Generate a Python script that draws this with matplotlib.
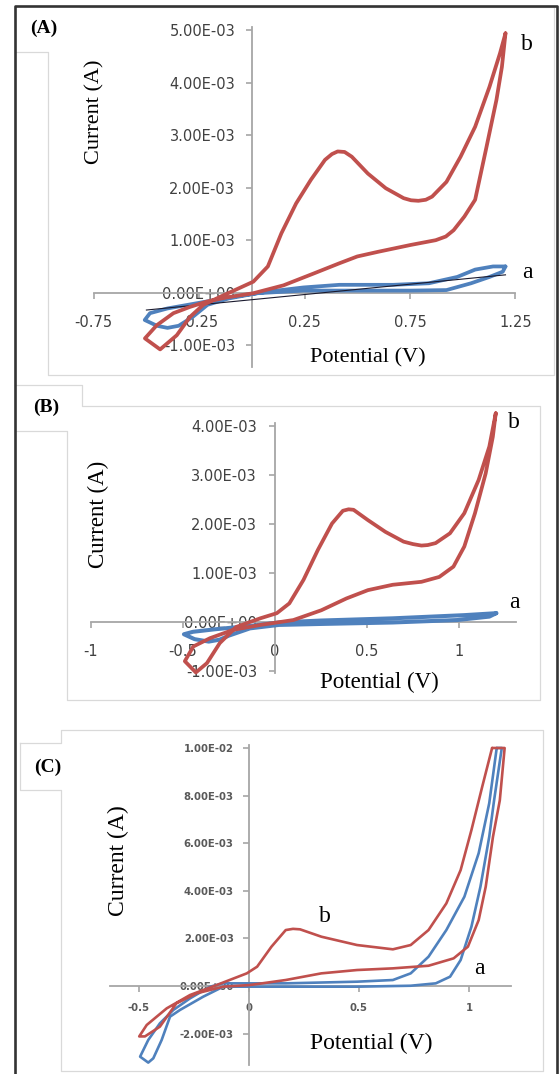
import matplotlib
matplotlib.use("Agg")
import matplotlib.pyplot as plt
from matplotlib.lines import Line2D
import numpy as np

W, H = 560, 1074

# ---- data: potential (V), current (mA) ----
# panel A
a_red_E = [1.203, 1.177, 1.127, 1.059, 0.99, 0.923, 0.855, 0.825, 0.79, 0.755, 0.72, 0.635,
           0.55, 0.474, 0.44, 0.407, 0.38, 0.347, 0.28, 0.21, 0.14, 0.076, 0.007, -0.072,
           -0.151, -0.23, -0.293, -0.356, -0.435, -0.507, -0.451, -0.372, -0.293, -0.214,
           -0.12, 0.007, 0.15, 0.296, 0.415, 0.50, 0.60, 0.754, 0.872, 0.92, 0.957, 1.008,
           1.059, 1.11, 1.16, 1.186, 1.203]
a_red_I = [4.94, 4.56, 3.92, 3.16, 2.59, 2.11, 1.83, 1.77, 1.75, 1.76, 1.80, 1.99,
           2.27, 2.59, 2.68, 2.69, 2.64, 2.53, 2.15, 1.70, 1.13, 0.50, 0.21, 0.065,
           -0.08, -0.23, -0.46, -0.81, -1.08, -0.87, -0.62, -0.39, -0.27, -0.17,
           -0.09, -0.01, 0.14, 0.37, 0.56, 0.69, 0.78, 0.91, 1.0, 1.07, 1.19, 1.45,
           1.77, 2.72, 3.67, 4.30, 4.94]
a_blue_E = [1.203, 1.144, 1.059, 0.974, 0.84, 0.67, 0.415, 0.245, 0.076, -0.094, -0.26,
            -0.40, -0.483, -0.508, -0.45, -0.40, -0.347, -0.28, -0.21, -0.11, 0.025,
            0.245, 0.5, 0.754, 0.923, 1.04, 1.127, 1.19, 1.203]
a_blue_I = [0.50, 0.50, 0.44, 0.30, 0.18, 0.15, 0.15, 0.10, 0.02, -0.08, -0.20,
            -0.30, -0.39, -0.52, -0.63, -0.67, -0.63, -0.46, -0.23, -0.11, -0.01,
            0.04, 0.04, 0.04, 0.05, 0.18, 0.30, 0.40, 0.50]
a_fit_E = [-0.50, 1.203]
a_fit_I = [-0.33, 0.34]

# panel B
b_red_E = [1.20, 1.165, 1.107, 1.029, 0.951, 0.873, 0.83, 0.796, 0.75, 0.699, 0.60, 0.505,
           0.427, 0.40, 0.369, 0.31, 0.233, 0.155, 0.078, 0.01, -0.08, -0.21, -0.30, -0.37,
           -0.43, -0.49, -0.444, -0.353, -0.227, -0.08, 0.10, 0.252, 0.388, 0.505, 0.64,
           0.796, 0.893, 0.97, 1.029, 1.087, 1.145, 1.184, 1.20]
b_red_I = [4.26, 3.58, 2.90, 2.22, 1.81, 1.61, 1.57, 1.56, 1.59, 1.64, 1.84, 2.08,
           2.29, 2.30, 2.27, 2.01, 1.47, 0.86, 0.38, 0.18, 0.075, -0.10, -0.43, -0.84,
           -1.03, -0.80, -0.50, -0.33, -0.16, -0.06, 0.04, 0.24, 0.48, 0.65, 0.76,
           0.82, 0.92, 1.13, 1.54, 2.22, 3.03, 3.78, 4.26]
b_blue_E = [1.203, 1.029, 0.64, 0.25, 0.02, -0.136, -0.33, -0.446, -0.495, -0.437, -0.36,
            -0.30, -0.252, -0.136, 0.02, 0.25, 0.64, 0.99, 1.165, 1.203]
b_blue_I = [0.18, 0.14, 0.075, 0.03, -0.01, -0.08, -0.15, -0.20, -0.25, -0.35, -0.40,
            -0.36, -0.28, -0.13, -0.06, -0.04, -0.01, 0.04, 0.11, 0.18]

# panel C
c_red_E = [1.105, 1.06, 1.011, 0.962, 0.897, 0.816, 0.735, 0.654, 0.491, 0.329, 0.232,
           0.20, 0.167, 0.102, 0.037, -0.01, -0.147, -0.268, -0.374, -0.465, -0.499, -0.473,
           -0.405, -0.33, -0.238, -0.117, 0.005, 0.167, 0.329, 0.491, 0.654, 0.816, 0.93,
           0.995, 1.044, 1.076, 1.109, 1.14, 1.162, 1.105]
c_red_I = [10.0, 8.37, 6.55, 4.87, 3.47, 2.35, 1.72, 1.54, 1.72, 2.07, 2.38,
           2.40, 2.35, 1.65, 0.81, 0.53, 0.04, -0.38, -0.94, -1.64, -2.12, -2.12,
           -1.71, -0.73, -0.31, -0.03, 0.04, 0.25, 0.53, 0.67, 0.74, 0.85, 1.16,
           1.65, 2.77, 4.17, 6.27, 7.8, 10.0, 10.0]
c_blue_E = [1.126, 1.092, 1.044, 0.979, 0.897, 0.816, 0.735, 0.654, 0.491, 0.167, 0.0,
            -0.117, -0.177, -0.268, -0.344, -0.405, -0.458, -0.495, -0.458, -0.435,
            -0.397, -0.359, -0.314, -0.208, -0.117, 0.167, 0.49, 0.735, 0.849, 0.914,
            0.962, 1.011, 1.052, 1.092, 1.114, 1.149, 1.126]
c_blue_I = [10.0, 7.68, 5.58, 3.75, 2.35, 1.23, 0.53, 0.25, 0.18, 0.11, 0.11,
            0.11, -0.03, -0.52, -1.01, -1.57, -2.27, -2.97, -3.22, -3.04,
            -2.27, -1.29, -1.01, -0.45, -0.03, -0.03, -0.03, 0.01, 0.11, 0.39,
            1.09, 2.49, 4.17, 6.27, 7.8, 10.0, 10.0]

a_yticks = [-1e-3, 0, 1e-3, 2e-3, 3e-3, 4e-3, 5e-3]
a_xticks = [-0.75, -0.25, 0.25, 0.75, 1.25]
a_xlabels = ["-0.75", "-0.25", "0.25", "0.75", "1.25"]
b_yticks = [-1e-3, 0, 1e-3, 2e-3, 3e-3, 4e-3]
b_xticks = [-1, -0.5, 0, 0.5, 1]
b_xlabels = ["-1", "-0.5", "0", "0.5", "1"]
c_yticks = [-2e-3, 0, 2e-3, 4e-3, 6e-3, 8e-3, 1e-2]
c_xticks = [-0.5, 0, 0.5, 1]
c_xlabels = ["-0.5", "0", "0.5", "1"]

RED = "#c0504d"
BLUE = "#4f81bd"
AXIS = "#a6a6a6"
SERIF = "Liberation Serif"


def fx(px):
    return px / W


def fy(py):
    return 1 - py / H


def px_axes(fig, left, right, top, bottom):
    return fig.add_axes([fx(left), fy(bottom), (right - left) / W, (bottom - top) / H])


def style(ax, xlim, ylim, xticks, xlabels, yticks, size, bold, xpad, ypad):
    ax.set_xlim(xlim)
    ax.set_ylim(ylim)
    ax.patch.set_alpha(0)
    for s in ["top", "right"]:
        ax.spines[s].set_visible(False)
    for s in ["left", "bottom"]:
        ax.spines[s].set_position(("data", 0))
        ax.spines[s].set_color(AXIS)
        ax.spines[s].set_linewidth(1.3)
    ax.set_xticks(xticks)
    ax.set_xticklabels(xlabels)
    ax.set_yticks(yticks)
    ax.set_yticklabels([f"{v:.2E}" for v in yticks])
    w = "bold" if bold else "normal"
    ax.tick_params(axis="both", direction="out", length=4, width=1.2, color=AXIS,
                   labelsize=size, labelcolor="#404040")
    ax.tick_params(axis="x", pad=xpad)
    ax.tick_params(axis="y", pad=ypad)
    for lab in ax.get_xticklabels() + ax.get_yticklabels():
        lab.set_fontweight(w)


def curve(ax, E, I, color, lw):
    ax.plot(E, np.array(I) * 1e-3, color=color, lw=lw, solid_joinstyle="round",
            solid_capstyle="round", clip_on=False, zorder=3)


fig = plt.figure(figsize=(W / 100, H / 100), dpi=100)

# faint chart-area borders
grey = "#d9d9d9"
boxes = [
    [(15, 52), (47.5, 52), (47.5, 375), (554, 375), (554, 7), (80, 7)],
    [(15, 385), (82, 385), (82, 406), (540, 406), (540, 700), (67, 700), (67, 431), (15, 431)],
    [(20, 743), (61, 743), (61, 730), (543, 730), (543, 1071), (61, 1071), (61, 790), (20, 790), (20, 743)],
]
for pts in boxes:
    fig.add_artist(Line2D([fx(p[0]) for p in pts], [fy(p[1]) for p in pts],
                          color=grey, lw=0.9))

# outer black frame
fig.add_artist(Line2D([fx(15), fx(15), fx(557), fx(557)], [fy(1074), fy(5.5), fy(5.5), fy(1074)],
                      color="#333333", lw=1.9))

# ---- panel A ----
ax = px_axes(fig, 93.7, 515.4, 27.0, 367.0)
style(ax, (-0.75, 1.25), (-1.415e-3, 5.06e-3), a_xticks, a_xlabels, a_yticks, 10.5, False, 12, 8)
curve(ax, a_blue_E, a_blue_I, BLUE, 2.7)
ax.plot(a_fit_E, np.array(a_fit_I) * 1e-3, color="#1a1a2e", lw=0.8, zorder=3)
curve(ax, a_red_E, a_red_I, RED, 2.7)

# ---- panel B ----
ax = px_axes(fig, 91.0, 516.0, 408.85, 675.9)
style(ax, (-1.0, 1.31), (-1.1e-3, 4.35e-3), b_xticks, b_xlabels, b_yticks, 10.5, False, 12, 9)
ax.spines["left"].set_bounds(-1.04e-3, 4.06e-3)
curve(ax, b_blue_E, b_blue_I, BLUE, 2.9)
curve(ax, b_red_E, b_red_I, RED, 2.7)

# ---- panel C ----
ax = px_axes(fig, 110.4, 510.8, 744.9, 1064.5)
style(ax, (-0.63, 1.19), (-3.3e-3, 10.13e-3), c_xticks, c_xlabels, c_yticks, 7.3, True, 8, 7)
ax.tick_params(labelcolor="#595959")
curve(ax, c_blue_E, c_blue_I, BLUE, 1.9)
curve(ax, c_red_E, c_red_I, RED, 1.9)

# ---- texts ----
titles = [
    ("(A)", 44, 28), ("(B)", 46, 407), ("(C)", 48, 767),
]
for s, x, y in titles:
    fig.text(fx(x), fy(y), s, family=SERIF, weight="bold", size=14, ha="center", va="center")

axis_titles = [
    (95, 112, 368, 358, 16),
    (98, 514, 379, 682, 16.5),
    (118, 861, 371, 1043, 17),
]
for cx, cy, px, py, fs in axis_titles:
    fig.text(fx(cx), fy(cy), "Current (A)", family=SERIF, size=fs, rotation=90,
             ha="center", va="center")
    fig.text(fx(px), fy(py), "Potential (V)", family=SERIF, size=fs, ha="center", va="center")

curve_tags = [
    ("b", 527, 45), ("a", 527, 272),
    ("b", 514, 423), ("a", 514, 603),
    ("b", 325, 917), ("a", 479, 968),
]
for s, x, y in curve_tags:
    fig.text(fx(x), fy(y), s, family=SERIF, size=17, ha="center", va="center")

fig.savefig("out.png", dpi=100)
